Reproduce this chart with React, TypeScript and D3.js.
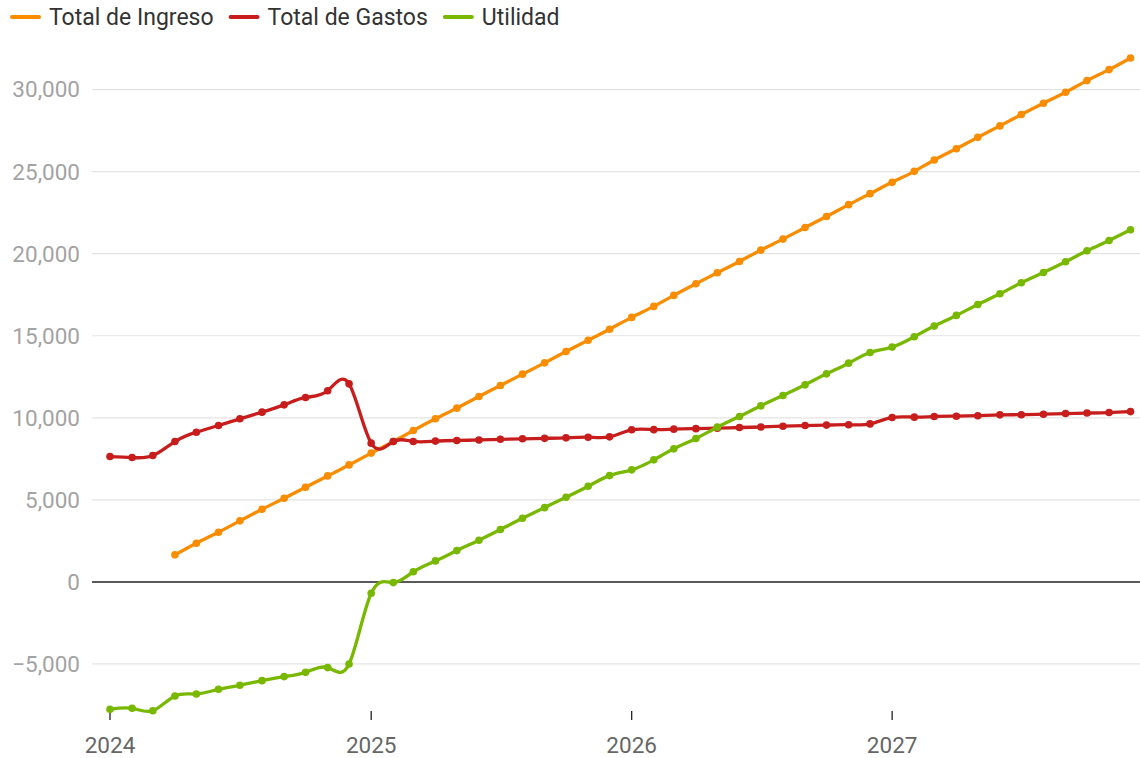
import React, { useEffect, useRef } from "react";
import * as d3 from "d3";

const months: string[] = [
  "2024-01","2024-02","2024-03","2024-04","2024-05","2024-06","2024-07","2024-08","2024-09","2024-10","2024-11","2024-12",
  "2025-01","2025-02","2025-03","2025-04","2025-05","2025-06","2025-07","2025-08","2025-09","2025-10","2025-11","2025-12",
  "2026-01","2026-02","2026-03","2026-04","2026-05","2026-06","2026-07","2026-08","2026-09","2026-10","2026-11","2026-12",
  "2027-01","2027-02","2027-03","2027-04","2027-05","2027-06","2027-07","2027-08","2027-09","2027-10","2027-11","2027-12",
];

const ingreso: (number | null)[] = [
  null, null, null, 1650, 2360, 3030, 3720, 4430, 5100, 5770, 6460, 7130,
  7850, 8555, 9225, 9940, 10590, 11300, 11970, 12660, 13350, 14040, 14730, 15400,
  16120, 16790, 17460, 18170, 18840, 19530, 20220, 20890, 21600, 22270, 22990, 23660,
  24350, 25020, 25710, 26400, 27090, 27790, 28480, 29170, 29840, 30550, 31220, 31930,
];

const gastos: number[] = [
  7640, 7580, 7700, 8555, 9125, 9530, 9940, 10345, 10790, 11240, 11650, 12070,
  8455, 8555, 8560, 8580, 8620, 8650, 8690, 8720, 8750, 8780, 8820, 8840,
  9270, 9280, 9310, 9340, 9370, 9410, 9440, 9490, 9530, 9555, 9580, 9630,
  10020, 10040, 10080, 10100, 10130, 10180, 10190, 10220, 10260, 10290, 10320, 10380,
];

const utilidad: number[] = [
  -7760, -7700, -7850, -6950, -6830, -6545, -6300, -6015, -5770, -5510, -5220, -5000,
  -690, -40, 620, 1280, 1910, 2540, 3190, 3880, 4530, 5160, 5830, 6480,
  6830, 7440, 8110, 8740, 9430, 10080, 10730, 11360, 12010, 12680, 13330, 13980,
  14310, 14940, 15590, 16240, 16910, 17560, 18230, 18860, 19510, 20180, 20810, 21460,
];

const seriesNames: string[] = ["Total de Ingreso", "Total de Gastos", "Utilidad"];
const seriesColors: string[] = ["#fa8c00", "#c71e1d", "#78b800"];
const yTicks: number[] = [-5000, 0, 5000, 10000, 15000, 20000, 25000, 30000];
const xTickYears: string[] = ["2024", "2025", "2026", "2027"];

const W = 1140;
const H = 758;
const FONT = "Roboto, 'Noto Sans', sans-serif";

export default function App() {
  const ref = useRef<SVGSVGElement | null>(null);

  useEffect(() => {
    const svg = d3.select(ref.current);
    svg.selectAll("*").remove();

    const parse = d3.timeParse("%Y-%m");
    const dates = months.map((m) => parse(m) as Date);

    const x = d3.scaleTime().domain([dates[0], dates[dates.length - 1]]).range([110, 1130.5]);
    const y = d3.scaleLinear().domain([-8000, 32000]).range([713.2, 56.8]);

    const g = svg.append("g");
    g.selectAll("line.grid")
      .data(yTicks)
      .join("line")
      .attr("x1", 92)
      .attr("x2", W)
      .attr("y1", (d) => y(d))
      .attr("y2", (d) => y(d))
      .attr("stroke", (d) => (d === 0 ? "#222" : "#e3e3e3"))
      .attr("stroke-width", (d) => (d === 0 ? 1.5 : 1.2));

    g.selectAll("text.ytick")
      .data(yTicks)
      .join("text")
      .attr("x", 80)
      .attr("y", (d) => y(d))
      .attr("dy", "0.35em")
      .attr("text-anchor", "end")
      .attr("font-family", FONT)
      .attr("font-size", 22.5)
      .attr("fill", "#a3a3a3")
      .text((d) => d3.format(",")(d).replace("-", "\u2212"));

    const yearDates = xTickYears.map((s) => d3.timeParse("%Y")(s) as Date);
    g.selectAll("line.xtick")
      .data(yearDates)
      .join("line")
      .attr("x1", (d) => x(d))
      .attr("x2", (d) => x(d))
      .attr("y1", 711)
      .attr("y2", 720)
      .attr("stroke", "#222")
      .attr("stroke-width", 1.3);
    g.selectAll("text.xtick")
      .data(yearDates)
      .join("text")
      .attr("x", (d) => x(d))
      .attr("y", 753)
      .attr("text-anchor", "middle")
      .attr("font-family", FONT)
      .attr("font-size", 22.5)
      .attr("fill", "#666")
      .text((d) => d3.timeFormat("%Y")(d));

    const allSeries = [ingreso, gastos, utilidad];
    allSeries.forEach((vals, i) => {
      const pts = vals
        .map((v, j) => ({ d: dates[j], v }))
        .filter((p) => p.v !== null) as { d: Date; v: number }[];
      const line = d3
        .line<{ d: Date; v: number }>()
        .x((p) => x(p.d))
        .y((p) => y(p.v))
        .curve(d3.curveNatural);
      svg
        .append("path")
        .datum(pts)
        .attr("d", line)
        .attr("fill", "none")
        .attr("stroke", seriesColors[i])
        .attr("stroke-width", 3.3)
        .attr("stroke-linejoin", "round")
        .attr("stroke-linecap", "round");
      svg
        .append("g")
        .selectAll("circle")
        .data(pts)
        .join("circle")
        .attr("cx", (p) => x(p.d))
        .attr("cy", (p) => y(p.v))
        .attr("r", 3.8)
        .attr("fill", seriesColors[i]);
    });

    const lg = svg.append("g");
    let cx = 12;
    seriesNames.forEach((name, i) => {
      lg.append("line")
        .attr("x1", cx)
        .attr("x2", cx + 27)
        .attr("y1", 17)
        .attr("y2", 17)
        .attr("stroke", seriesColors[i])
        .attr("stroke-width", 4)
        .attr("stroke-linecap", "round");
      const t = lg
        .append("text")
        .attr("x", cx + 37)
        .attr("y", 17)
        .attr("dy", "0.35em")
        .attr("font-family", FONT)
        .attr("font-size", 23)
        .attr("fill", "#333")
        .text(name);
      const w = (t.node() as SVGTextElement).getComputedTextLength();
      cx = cx + 37 + w + 17;
    });
  }, []);

  return (
    <svg
      ref={ref}
      width={W}
      height={H}
      style={{ position: "absolute", left: 0, top: 0, background: "#fff" }}
    />
  );
}
